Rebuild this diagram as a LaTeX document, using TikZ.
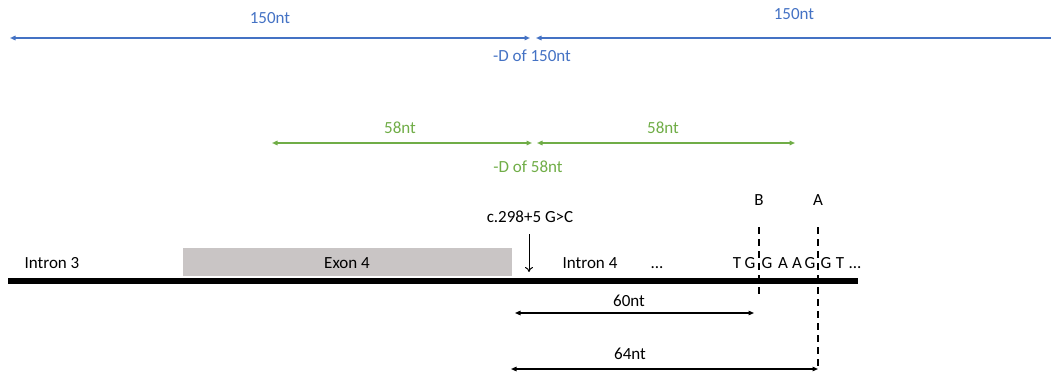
\documentclass[tikz,border=0pt]{standalone}
\usepackage{fontspec}
\setmainfont{Carlito}
\usetikzlibrary{arrows.meta}
\definecolor{myblue}{HTML}{4472C4}
\definecolor{mygreen}{HTML}{70AD47}
\definecolor{exongray}{RGB}{201,197,197}
\begin{document}
\begin{tikzpicture}[x=1pt,y=-1pt,
  lbl/.style={inner sep=0pt,font=\fontsize{17}{20}\selectfont},
  blbl/.style={lbl,text=myblue},
  glbl/.style={lbl,text=mygreen},
  bluearr/.style={draw=myblue,line width=1.4pt},
  greenarr/.style={draw=mygreen,line width=1.4pt},
  blackarr/.style={draw=black,line width=1.2pt},
  dashline/.style={draw=black,line width=2pt,dash pattern=on 7pt off 5pt},
  letter/.style={lbl,anchor=base},
  tips/.style={{Triangle[length=5.5pt,width=4.5pt]}-{Triangle[length=5.5pt,width=4.5pt]}}]
\useasboundingbox (0,0) rectangle (1051,377);
% blue
\coordinate (bL) at (10,38);
\coordinate (bM1) at (530,38);
\coordinate (bM2) at (536,38);
\coordinate (bR) at (1052,38);
\draw[bluearr,tips] (bL) -- (bM1);
\draw[bluearr,{Triangle[length=5.5pt,width=4.5pt]}-] (bM2) -- (bR);
\node[blbl] (b1) at (270,18) {150nt};
\node[blbl] (b2) at (794,14) {150nt};
\node[blbl] (b3) at (532,56) {-D of 150nt};
% green
\coordinate (gL) at (272,143);
\coordinate (gM1) at (532,143);
\coordinate (gM2) at (537,143);
\coordinate (gR) at (795,143);
\draw[greenarr,tips] (gL) -- (gM1);
\draw[greenarr,tips] (gM2) -- (gR);
\node[glbl] (g1) at (400,128) {58nt};
\node[glbl] (g2) at (663,128) {58nt};
\node[glbl] (g3) at (528,167) {-D of 58nt};
% exon
\node[draw=none,fill=exongray,minimum width=329pt,minimum height=28pt,inner sep=0pt] (exon) at (347.5,262) {};
\node[lbl] (exlbl) at (347,263) {Exon 4};
% thick line
\coordinate (tL) at (8,281);
\coordinate (tR) at (858,281);
\draw[line width=6pt] (tL) -- (tR);
\node[lbl] (i3) at (52,263) {Intron 3};
\node[lbl] (i4) at (590,263) {Intron 4};
\node[letter] (dots) at (657,268) {{.}{.}{.}};
% mutation
\node[lbl] (mut) at (530,217) {c.298+5 G>C};
\coordinate (mA) at (529,234);
\coordinate (mB) at (529,272);
\draw[line width=1pt,-{To[length=5pt,width=8pt]}] (mA) -- (mB);
% sequence letters
\node[letter] (s1) at (737,268) {T};
\node[letter] (s2) at (750,268) {G};
\node[letter] (s3) at (767,268) {G};
\node[letter] (s4) at (783,268) {A};
\node[letter] (s5) at (797,268) {A};
\node[letter] (s6) at (810,268) {G};
\node[letter] (s7) at (826,268) {G};
\node[letter] (s8) at (840,268) {T};
\node[letter] (s9) at (855,268) {{.}{.}{.}};
% dashed
\node[lbl] (B) at (759,200) {B};
\node[lbl] (A) at (818,200) {A};
\coordinate (Bt) at (759,227);
\coordinate (Bb) at (759,296);
\coordinate (At) at (818,227);
\coordinate (Ab) at (818,367);
\draw[dashline] (Bt) -- (Bb);
\draw[dashline] (At) -- (Ab);
% distance arrows
\coordinate (d1L) at (515,313);
\coordinate (d1R) at (754,313);
\coordinate (d2L) at (511,369);
\coordinate (d2R) at (818,369);
\draw[blackarr,tips] (d1L) -- (d1R);
\draw[blackarr,tips] (d2L) -- (d2R);
\node[lbl] (n60) at (629,301) {60nt};
\node[lbl] (n64) at (630,354) {64nt};
\end{tikzpicture}
\end{document}
